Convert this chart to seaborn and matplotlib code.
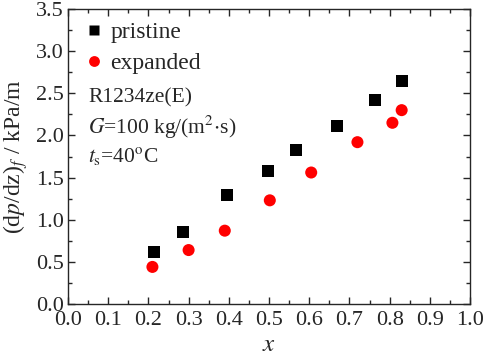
import matplotlib
matplotlib.use("Agg")
import matplotlib.pyplot as plt
import seaborn as sns
import pandas as pd
from matplotlib.ticker import MultipleLocator

x_pristine = [0.215, 0.285, 0.395, 0.497, 0.568, 0.668, 0.763, 0.832]
y_pristine = [0.62, 0.86, 1.29, 1.58, 1.83, 2.11, 2.42, 2.64]
x_expanded = [0.21, 0.30, 0.39, 0.502, 0.605, 0.72, 0.807, 0.83]
y_expanded = [0.44, 0.64, 0.87, 1.23, 1.56, 1.92, 2.15, 2.30]
series = ["pristine", "expanded"]

df = pd.DataFrame({
    "x": x_pristine + x_expanded,
    "y": y_pristine + y_expanded,
    "series": [series[0]] * len(x_pristine) + [series[1]] * len(x_expanded),
})

sns.set_style("ticks")
plt.rcParams["font.family"] = ["Liberation Serif", "DejaVu Serif"]
plt.rcParams["mathtext.fontset"] = "stix"

fig = plt.figure(figsize=(4.84, 3.55), dpi=100)
ax = fig.add_axes([68 / 484, 1 - 304 / 355, 402 / 484, 295 / 355])

sns.scatterplot(data=df, x="x", y="y", hue="series", style="series",
                palette={"pristine": "black", "expanded": "red"},
                markers={"pristine": "s", "expanded": "o"},
                s=75, edgecolor="none", ax=ax)

ax.set_xlim(0, 1.0)
ax.set_ylim(0, 3.5)
ax.xaxis.set_major_locator(MultipleLocator(0.1))
ax.xaxis.set_minor_locator(MultipleLocator(0.05))
ax.yaxis.set_major_locator(MultipleLocator(0.5))
ax.yaxis.set_minor_locator(MultipleLocator(0.25))
ax.tick_params(which="both", direction="in", top=True, right=True, labelsize=16, width=1)
ax.tick_params(which="major", length=5)
ax.tick_params(which="minor", length=3)
ax.tick_params(axis="x", which="major", pad=5)
ax.tick_params(axis="y", which="major", pad=3)
for s in ax.spines.values():
    s.set_linewidth(1)
ax.set_xticklabels([f"{v:.1f}" for v in ax.get_xticks()])
ax.set_yticklabels([f"{v:.1f}" for v in ax.get_yticks()])

ax.set_xlabel("$x$", fontsize=18, labelpad=3)
ax.set_ylabel(r"(d$p$/d$\mathrm{z}$)$_f$ / kPa/m", fontsize=17, labelpad=4)

leg = ax.legend(loc="upper left", bbox_to_anchor=(0.0, 1.014), frameon=False,
                fontsize=17, handletextpad=0.3, handlelength=0.8,
                borderaxespad=0.4, labelspacing=0.4, markerscale=0.9, borderpad=0.3)

ax.text(0.05, 2.45, "R1234ze(E)", fontsize=15.5, va="center")
ax.text(0.05, 2.10, r"$G$=100 kg/(m$^2$$\cdot$s)", fontsize=15.5, va="center")
ax.text(0.05, 1.76, r"$t_\mathrm{s}$=40$^\mathrm{o}$C", fontsize=15.5, va="center")

fig.savefig("out.png", dpi=100)
